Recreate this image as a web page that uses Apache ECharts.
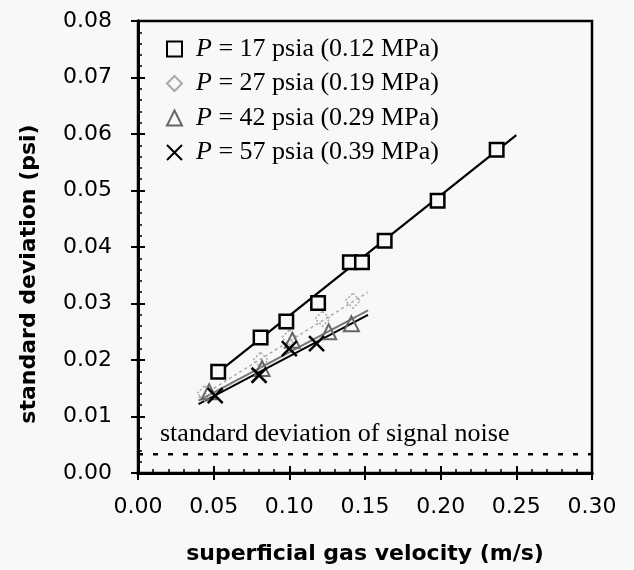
<!DOCTYPE html>
<html><head><meta charset="utf-8">
<script src="https://cdn.jsdelivr.net/npm/echarts@6/dist/echarts.min.js"></script>
<style>html,body{margin:0;padding:0;background:#f8f8f8}#c{width:634px;height:570px}</style>
</head><body><div id="c"></div><script>
// ---- data ----
const seriesNames = ['P = 17 psia (0.12 MPa)', 'P = 27 psia (0.19 MPa)', 'P = 42 psia (0.29 MPa)', 'P = 57 psia (0.39 MPa)'];
const vel17 = [0.053, 0.081, 0.098, 0.119, 0.140, 0.148, 0.163, 0.198, 0.237];
const sd17  = [0.0179, 0.0240, 0.0268, 0.0301, 0.0373, 0.0373, 0.0411, 0.0482, 0.0572];
const vel27 = [0.044, 0.081, 0.100, 0.122, 0.142];
const sd27  = [0.0141, 0.0200, 0.0240, 0.0273, 0.0305];
const vel42 = [0.047, 0.082, 0.102, 0.126, 0.141];
const sd42  = [0.0144, 0.0185, 0.0235, 0.0250, 0.0264];
const vel57 = [0.051, 0.080, 0.100, 0.118];
const sd57  = [0.0137, 0.0173, 0.0220, 0.0229];
// fitted trend lines (end points)
const fitVel17 = [0.05, 0.25];  const fitSd17 = [0.0172, 0.0598];
const fitVel27 = [0.04, 0.152]; const fitSd27 = [0.0133, 0.0320];
const fitVel42 = [0.04, 0.152]; const fitSd42 = [0.0128, 0.0288];
const fitVel57 = [0.04, 0.152]; const fitSd57 = [0.0122, 0.0280];
const noiseVel = [0, 0.30]; const noiseSd = [0.0033, 0.0033];
const noiseText = 'standard deviation of signal noise';
const xTitle = 'superficial gas velocity (m/s)';
const yTitle = 'standard deviation (psi)';
const xMin = 0, xMax = 0.30, xStep = 0.05;
const yMin = 0, yMax = 0.08, yStep = 0.01;

const pairs = (a, b) => a.map((v, i) => [v, b[i]]);
const SERIF = "'Liberation Serif','Times New Roman',serif";
const SANS = "'DejaVu Sans',sans-serif";
const BG = '#f8f8f8';

const chart = echarts.init(document.getElementById('c'), null, {renderer: 'canvas'});

function xAx(main) {
  return {
    type: 'value', position: 'bottom', min: xMin, max: xMax, interval: xStep,
    axisLine: {show: true, onZero: false, lineStyle: {color: '#000', width: 3}},
    axisTick: {show: true, inside: !main, length: 7, lineStyle: {color: '#000', width: 2}},
    minorTick: {show: !main, splitNumber: 5, length: 4, lineStyle: {color: '#000', width: 1.5}},
    splitLine: {show: false}, minorSplitLine: {show: false},
    axisLabel: {show: main, margin: 23, fontFamily: SANS, fontSize: 22, color: '#000',
      formatter: v => v.toFixed(2)},
    name: main ? xTitle : '', nameLocation: 'middle', nameGap: 70,
    nameTextStyle: {fontFamily: SANS, fontSize: 22, fontWeight: 'bold', color: '#000'}
  };
}
function yAx(main) {
  return {
    type: 'value', position: 'left', min: yMin, max: yMax, interval: yStep,
    axisLine: {show: true, onZero: false, lineStyle: {color: '#000', width: 3}},
    axisTick: {show: true, inside: !main, length: 7, lineStyle: {color: '#000', width: 2}},
    minorTick: {show: !main, splitNumber: 5, length: 4, lineStyle: {color: '#000', width: 1.5}},
    splitLine: {show: false}, minorSplitLine: {show: false},
    axisLabel: {show: main, margin: 26, fontFamily: SANS, fontSize: 22, color: '#000',
      formatter: v => v.toFixed(2)}
  };
}
function fitLine(vx, vy, color, width, type) {
  return {type: 'line', data: pairs(vx, vy), showSymbol: false, symbol: 'none', z: 2,
    lineStyle: {color: color, width: width, type: type}, silent: true, animation: false};
}
const xPath = 'path://M0,0L10,10M10,0L0,10';

chart.setOption({
  backgroundColor: BG,
  animation: false,
  grid: {left: 138, right: 42, top: 21, bottom: 95, show: true, borderColor: '#000', borderWidth: 2.5, backgroundColor: 'transparent'},
  xAxis: [xAx(true), xAx(false)],
  yAxis: [yAx(true), yAx(false)],
  legend: {
    orient: 'vertical', left: 161, top: 31, itemWidth: 15, itemHeight: 15, itemGap: 8.5,
    data: seriesNames, selectedMode: false,
    formatter: n => '{s|}{i|P}' + n.slice(1),
    textStyle: {fontFamily: SERIF, fontSize: 26, lineHeight: 26, color: '#000',
      rich: {s: {width: 9}, i: {fontFamily: SERIF, fontSize: 26, lineHeight: 26, fontStyle: 'italic', color: '#000'}}}
  },
  graphic: [
    {type: 'text', x: 29, y: 274, rotation: Math.PI / 2,
      style: {text: yTitle, align: 'center', verticalAlign: 'middle', fill: '#000',
        font: "bold 22px 'DejaVu Sans', sans-serif"}},
    {type: 'text', x: 160, y: 434,
      style: {text: noiseText, align: 'left', verticalAlign: 'middle', fill: '#000',
        font: "26px 'Liberation Serif', 'Times New Roman', serif"}}
  ],
  series: [
    fitLine(fitVel17, fitSd17, '#000', 2.2, 'solid'),
    fitLine(fitVel27, fitSd27, '#aaaaaa', 1.5, [3, 3]),
    fitLine(fitVel42, fitSd42, '#777777', 2, 'solid'),
    fitLine(fitVel57, fitSd57, '#000', 2, 'solid'),
    fitLine(noiseVel, noiseSd, '#000', 2.5, [5, 10]),
    {type: 'scatter', name: seriesNames[0], data: pairs(vel17, sd17), symbol: 'rect', symbolSize: 13.5, z: 5,
      itemStyle: {color: BG, borderColor: '#000', borderWidth: 2.5, opacity: 1}},
    {type: 'scatter', name: seriesNames[1], data: pairs(vel27, sd27), symbol: 'diamond', symbolSize: 15, z: 4,
      itemStyle: {color: 'transparent', borderColor: '#a8a8a8', borderWidth: 1.5, borderType: [2, 2], opacity: 1}},
    {type: 'scatter', name: seriesNames[2], data: pairs(vel42, sd42), symbol: 'triangle', symbolSize: 15, z: 4,
      itemStyle: {color: 'transparent', borderColor: '#666', borderWidth: 2, opacity: 1}},
    {type: 'scatter', name: seriesNames[3], data: pairs(vel57, sd57), symbol: xPath, symbolSize: 15, z: 6,
      itemStyle: {color: 'transparent', borderColor: '#000', borderWidth: 2.5, opacity: 1}}
  ]
});
</script></body></html>
